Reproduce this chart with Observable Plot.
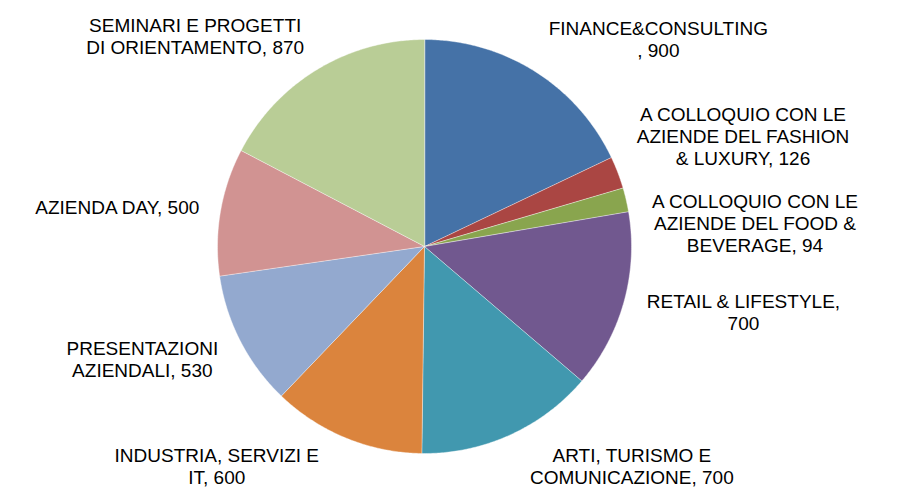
<!DOCTYPE html>
<html>
<head>
<meta charset="utf-8">
<script src="https://cdn.jsdelivr.net/npm/d3@7"></script>
<script src="https://cdn.jsdelivr.net/npm/@observablehq/plot@0.6"></script>
<style>
  html, body { margin: 0; padding: 0; background: #fff; }
  #chart { width: 898px; height: 491px; }
</style>
</head>
<body>
<div id="chart"></div>
<script>
// ---- data ----
const categories = [
  "FINANCE&CONSULTING",
  "A COLLOQUIO CON LE AZIENDE DEL FASHION & LUXURY",
  "A COLLOQUIO CON LE AZIENDE DEL FOOD & BEVERAGE",
  "RETAIL & LIFESTYLE",
  "ARTI, TURISMO E COMUNICAZIONE",
  "INDUSTRIA, SERVIZI E IT",
  "PRESENTAZIONI AZIENDALI",
  "AZIENDA DAY",
  "SEMINARI E PROGETTI DI ORIENTAMENTO"
];
const values = [900, 126, 94, 700, 700, 600, 530, 500, 870];
const colors = ["#4572A7", "#AA4643", "#89A54E", "#71588F", "#4198AF", "#DB843D", "#93A9CF", "#D19392", "#B9CD96"];

// ---- layout ----
const W = 898, H = 491;
const cx = 424, cy = 246, R = 207;
const FONT_SIZE = 19, LINE_H = 22, MAX_W = 222;
const FONT = "Liberation Sans, Arial, sans-serif";

const ctx = document.createElement("canvas").getContext("2d");
ctx.font = `${FONT_SIZE}px "Liberation Sans", Arial, sans-serif`;
const tw = s => ctx.measureText(s).width;

function wrap(text) {
  const words = text.split(" ");
  const lines = [];
  let cur = "";
  for (const w of words) {
    const test = cur ? cur + " " + w : w;
    if (tw(test) <= MAX_W) { cur = test; continue; }
    if (cur) lines.push(cur);
    cur = w;
    while (tw(cur) > MAX_W) {
      let k = cur.length - 1;
      while (k > 1 && tw(cur.slice(0, k)) > MAX_W) k--;
      lines.push(cur.slice(0, k));
      cur = cur.slice(k);
    }
  }
  if (cur) lines.push(cur);
  return lines;
}

const total = d3.sum(values);
let acc = 0;
const slices = categories.map((name, i) => {
  const a0 = acc / total * 2 * Math.PI;
  acc += values[i];
  const a1 = acc / total * 2 * Math.PI;
  return {name, value: values[i], a0, a1, mid: (a0 + a1) / 2};
});

// polygon points (unit circle, clockwise from top)
const pts = [];
for (const s of slices) {
  pts.push({name: s.name, x: 0, y: 0});
  const n = Math.max(2, Math.ceil((s.a1 - s.a0) / (Math.PI / 360)));
  for (let k = 0; k <= n; k++) {
    const a = s.a0 + (s.a1 - s.a0) * k / n;
    pts.push({name: s.name, x: Math.sin(a), y: -Math.cos(a)});
  }
}

// label placement (pixel offsets from center, then converted to scale units)
const labels = slices.map(s => {
  const lines = wrap(`${s.name}, ${s.value}`);
  const w = d3.max(lines, tw);
  const h = lines.length * LINE_H;
  const side = Math.sin(s.mid) >= 0 ? 1 : -1;
  const y = -(R + 17 + h / 2) * Math.cos(s.mid);
  return {name: s.name, text: lines.join("\n"), w, h, side, y};
});
for (const side of [1, -1]) {
  const grp = labels.filter(l => l.side === side).sort((a, b) => a.y - b.y);
  for (let it = 0; it < 20; it++) {
    for (let i = 1; i < grp.length; i++) {
      const need = (grp[i].h + grp[i - 1].h) / 2 + 21;
      const d = grp[i].y - grp[i - 1].y;
      if (d < need) { const m = need - d; grp[i].y += m * 0.65; grp[i - 1].y -= m * 0.35; }
    }
  }
}
for (const l of labels) {
  // keep label inside the picture
  l.y = Math.min(l.y, (H - cy) - l.h / 2 - 4);
  l.y = Math.max(l.y, -cy + l.h / 2 + 2);
  const g0 = l.y - l.h / 2 + 4, g1 = l.y + l.h / 2 - 4;
  const yNear = (g0 <= 0 && g1 >= 0) ? 0 : Math.min(Math.abs(g0), Math.abs(g1));
  const rr = R + 20;
  const xe = Math.sqrt(Math.max(0, rr * rr - yNear * yNear));
  l.x = l.side * (xe + l.w / 2);
  l.ux = l.x / R;
  l.uy = l.y / R;
}

const chart = Plot.plot({
  width: W,
  height: H,
  margin: 0,
  style: {background: "white"},
  x: {domain: [-1, 1], range: [cx - R, cx + R], axis: null},
  y: {domain: [-1, 1], range: [cy - R, cy + R], axis: null},
  color: {domain: categories, range: colors},
  marks: [
    Plot.line(pts, {
      x: "x", y: "y", z: "name", fill: "name",
      stroke: "white", strokeWidth: 0.6, strokeOpacity: 0.7,
      curve: "linear-closed"
    }),
    Plot.text(labels, {
      x: "ux", y: "uy", text: "text",
      fontSize: FONT_SIZE, lineHeight: LINE_H / FONT_SIZE,
      fontFamily: FONT, textAnchor: "middle", fill: "black"
    })
  ]
});
document.getElementById("chart").appendChild(chart);
</script>
</body>
</html>
